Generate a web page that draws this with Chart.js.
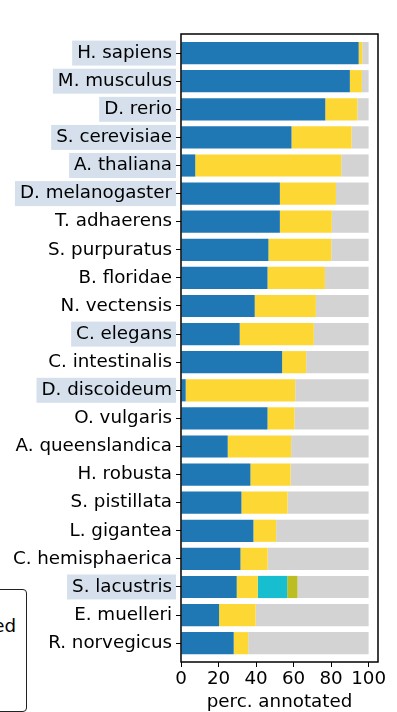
<!DOCTYPE html>
<html>
<head>
<meta charset="utf-8">
<script src="https://cdn.jsdelivr.net/npm/chart.js@4"></script>
<style>
  html, body { margin: 0; padding: 0; background: #fff; overflow: hidden; }
  #wrap { position: relative; width: 397px; height: 712px; }
  #legendBit {
    position: absolute; left: -74px; top: 589px; width: 99px; height: 121px;
    border: 1.5px solid #222; border-radius: 4px; background: #fff;
    font: 18.3px "DejaVu Sans", sans-serif; color: #000;
  }
  #legendBit span { position: absolute; right: 10px; top: 25px; line-height: 22px; }
</style>
</head>
<body>
<div id="wrap">
  <canvas id="myChart"></canvas>
  <div id="legendBit"><span>ed</span></div>
</div>
<script>
const species = [
  "H. sapiens", "M. musculus", "D. rerio", "S. cerevisiae", "A. thaliana",
  "D. melanogaster", "T. adhaerens", "S. purpuratus", "B. floridae", "N. vectensis",
  "C. elegans", "C. intestinalis", "D. discoideum", "O. vulgaris", "A. queenslandica",
  "H. robusta", "S. pistillata", "L. gigantea", "C. hemisphaerica", "S. lacustris",
  "E. muelleri", "R. norvegicus"
];
// model organisms get a shaded label
const highlighted = [
  "H. sapiens", "M. musculus", "D. rerio", "S. cerevisiae", "A. thaliana",
  "D. melanogaster", "C. elegans", "D. discoideum", "S. lacustris"
];

// stacked segments, percent
const blueVals = [94.7, 90.0, 76.9, 58.9, 7.6, 52.7, 52.7, 46.6, 46.1, 39.3, 31.3, 53.9, 2.5, 46.1, 24.9, 37.0, 32.2, 38.6, 31.7, 29.7, 20.3, 28.1];
const yellowVals = [1.9, 6.4, 17.1, 32.0, 77.8, 29.9, 27.7, 33.5, 30.6, 32.6, 39.5, 12.8, 58.4, 14.4, 33.8, 21.4, 24.6, 12.1, 14.5, 11.2, 19.5, 7.7];
const cyanVals = [0, 0, 0, 0, 0, 0, 0, 0, 0, 0, 0, 0, 0, 0, 0, 0, 0, 0, 0, 15.7, 0, 0];
const oliveVals = [0, 0, 0, 0, 0, 0, 0, 0, 0, 0, 0, 0, 0, 0, 0, 0, 0, 0, 0, 5.5, 0, 0];
const greyVals = [3.4, 3.6, 6.0, 9.1, 14.6, 17.4, 19.6, 19.9, 23.3, 28.1, 29.2, 33.3, 39.1, 39.5, 41.3, 41.6, 43.2, 49.3, 53.8, 37.9, 60.2, 64.2];

const xTicks = [0, 20, 40, 60, 80, 100];

const toPoints = (arr) => arr.map((v, i) => ({ x: v, y: i }));

const frame = {
  id: "frame",
  afterDraw(chart) {
    const { ctx, chartArea: a } = chart;
    ctx.save();
    ctx.strokeStyle = "#000";
    ctx.lineWidth = 1.5;
    ctx.strokeRect(a.left, a.top, a.right - a.left, a.bottom - a.top);
    ctx.restore();
  },
};

window.onload = function () {
  Chart.defaults.font.family = '"DejaVu Sans", sans-serif';
  Chart.defaults.font.size = 18.3;
  Chart.defaults.color = "#000";

  const ctx = document.getElementById("myChart").getContext("2d");
  const myChart = new Chart(ctx, {
    type: "bar",
    data: {
      datasets: [
        { label: "blue", data: toPoints(blueVals), backgroundColor: "#1f77b4" },
        { label: "yellow", data: toPoints(yellowVals), backgroundColor: "#fdd835" },
        { label: "cyan", data: toPoints(cyanVals), backgroundColor: "#17becf" },
        { label: "olive", data: toPoints(oliveVals), backgroundColor: "#bcbd22" },
        { label: "grey", data: toPoints(greyVals), backgroundColor: "#d3d3d3" },
      ],
    },
    options: {
      indexAxis: "y",
      responsive: true,
      maintainAspectRatio: false,
      animation: false,
      layout: { padding: { top: 34, right: 19, left: 0, bottom: 0 } },
      datasets: { bar: { barPercentage: 0.79, categoryPercentage: 1, borderWidth: 0 } },
      plugins: { legend: { display: false }, tooltip: { enabled: false } },
      scales: {
        x: {
          type: "linear",
          stacked: true,
          min: 0,
          max: 105,
          border: { display: false },
          grid: { drawOnChartArea: false, drawTicks: true, tickLength: 5, color: "#000" },
          ticks: { padding: 1, maxRotation: 0, minRotation: 0, autoSkip: false, font: { size: 18.3 } },
          afterBuildTicks: (axis) => { axis.ticks = xTicks.map((v) => ({ value: v })); },
          afterFit: (axis) => { axis.height = 50; },
          title: { display: true, text: "perc. annotated", padding: { top: 0, bottom: -1 }, font: { size: 18.3 } },
        },
        y: {
          type: "linear",
          stacked: true,
          reverse: true,
          offset: false,
          min: -0.68,
          max: 21.67,
          border: { display: false },
          grid: { offset: false, drawOnChartArea: false, drawTicks: true, tickLength: 5, color: "#000" },
          afterBuildTicks: (axis) => { axis.ticks = species.map((s, i) => ({ value: i })); },
          afterFit: (axis) => { axis.width = 181; },
          ticks: {
            padding: 4,
            font: { size: 18.3 },
            callback: (value) => species[value],
            showLabelBackdrop: true,
            backdropPadding: { top: 1.5, bottom: 1.5, left: 5, right: 4 },
            backdropColor: (c) => highlighted.includes(species[c.index]) ? "#d5e0ec" : "rgba(0,0,0,0)",
          },
        },
      },
    },
    plugins: [frame],
  });
};
</script>
</body>
</html>
